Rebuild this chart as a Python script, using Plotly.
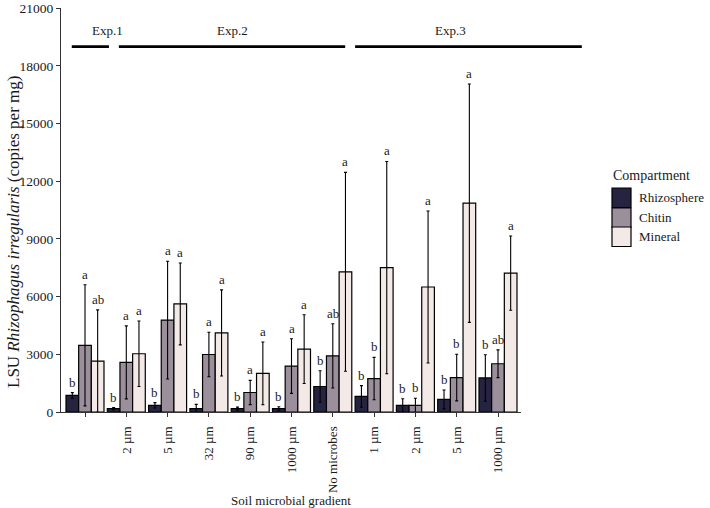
import plotly.graph_objects as go

# ---------------- data ----------------
tick_labels = ["", "2 µm", "5 µm", "32 µm", "90 µm", "1000 µm",
               "No microbes", "1 µm", "2 µm", "5 µm", "1000 µm"]
compartments = ["Rhizosphere", "Chitin", "Mineral"]

rhizo_mean = [860, 175, 345, 175, 175, 175, 1325, 810, 345, 655, 1770]
rhizo_sd   = [150, 50, 140, 220, 80, 100, 820, 560, 345, 490, 1210]
chitin_mean = [3470, 2580, 4780, 2990, 1015, 2390, 2920, 1740, 345, 1790, 2510]
chitin_sd   = [3150, 1900, 3060, 1160, 630, 1420, 1670, 1100, 370, 1210, 720]
mineral_mean = [2650, 3030, 5620, 4110, 2010, 3270, 7290, 7510, 6500, 10860, 7220]
mineral_sd   = [2660, 1700, 2130, 2240, 1630, 1790, 5170, 5520, 3950, 6200, 1930]

rhizo_letters = ["b", "b", "b", "b", "b", "b", "b", "b", "b", "b", "b"]
chitin_letters = ["a", "a", "a", "a", "a", "a", "ab", "b", "b", "b", "ab"]
mineral_letters = ["ab", "a", "a", "a", "a", "a", "a", "a", "a", "a", "a"]

y_ticks = [0, 3000, 6000, 9000, 12000, 15000, 18000, 21000]

exp_names = ["Exp.1", "Exp.2", "Exp.3"]
exp_start = [-0.32, 0.82, 6.54]   # in category units
exp_end = [0.58, 6.30, 12.03]
exp_level = 19000

colors = ["#25233f", "#9b8f9c", "#f3e9e6"]

# ---------------- layout constants ----------------
W, H = 710, 508
ML, MR, MT, MB = 61, 189, 8, 96
PW, PH = W - ML - MR, H - MT - MB
x_range = [-0.581, 10.557]
y_range = [0, 21010]
font_family = "Liberation Serif"
txt = "#1a1a1a"

xs = list(range(len(tick_labels)))
means = [rhizo_mean, chitin_mean, mineral_mean]
sds = [rhizo_sd, chitin_sd, mineral_sd]
letters = [rhizo_letters, chitin_letters, mineral_letters]

fig = go.Figure()
for name, m, s, c in zip(compartments, means, sds, colors):
    fig.add_trace(go.Bar(
        x=xs, y=m, name=name,
        marker=dict(color=c, line=dict(color="black", width=1.2)),
        error_y=dict(type="data", array=s, visible=True,
                     color="black", thickness=1.1, width=1.5),
        showlegend=False,
    ))

bargap = 0.08
bar_w = (1 - bargap) / 3
annotations = []
for k in range(3):
    off = (k - 1) * bar_w
    for i in xs:
        annotations.append(dict(
            x=i + off, y=means[k][i] + sds[k][i], xref="x", yref="y",
            text=letters[k][i], showarrow=False, yanchor="bottom", yshift=1,
            font=dict(family=font_family, size=13, color=txt),
        ))


def xpaper(u):
    return (u - x_range[0]) / (x_range[1] - x_range[0])


def px_to_py(py):
    return (MT + PH - py) / PH


ypaper_exp = (exp_level - y_range[0]) / (y_range[1] - y_range[0])
shapes = []
for nm, a, b in zip(exp_names, exp_start, exp_end):
    shapes.append(dict(type="line", xref="paper", yref="paper",
                       x0=xpaper(a), x1=xpaper(b), y0=ypaper_exp, y1=ypaper_exp,
                       line=dict(color="black", width=2.6)))
    annotations.append(dict(x=xpaper((a + b) / 2), y=ypaper_exp, xref="paper", yref="paper",
                            text=nm, showarrow=False, yanchor="bottom", yshift=7,
                            font=dict(family=font_family, size=13, color=txt)))

# y-axis title
annotations.append(dict(x=(13 - ML) / PW, y=px_to_py(232), xref="paper", yref="paper",
                        text="LSU <i>Rhizophagus irregularis</i> (copies per mg)",
                        textangle=-90, showarrow=False, xanchor="center", yanchor="middle",
                        font=dict(family=font_family, size=17, color=txt)))

# custom legend
leg_x0 = (612 - ML) / PW
leg_x1 = (631 - ML) / PW
key_tops = [188, 208, 227]
key_h = 19.5
annotations.append(dict(x=(611 - ML) / PW, y=px_to_py(175), xref="paper", yref="paper",
                        text="Compartment", showarrow=False, xanchor="left", yanchor="middle",
                        font=dict(family=font_family, size=14, color=txt)))
for name, c, top in zip(compartments, colors, key_tops):
    y1 = px_to_py(top)
    y0 = px_to_py(top + key_h)
    shapes.append(dict(type="rect", xref="paper", yref="paper",
                       x0=leg_x0, x1=leg_x1, y0=y0, y1=y1,
                       fillcolor=c, line=dict(color="black", width=1.2)))
    annotations.append(dict(x=(637 - ML) / PW, y=(y0 + y1) / 2, xref="paper", yref="paper",
                            text=name, showarrow=False, xanchor="left", yanchor="middle",
                            font=dict(family=font_family, size=13, color=txt)))

fig.update_layout(
    width=W, height=H,
    margin=dict(l=ML, r=MR, t=MT, b=MB, autoexpand=False),
    paper_bgcolor="white", plot_bgcolor="white",
    barmode="group", bargap=bargap, bargroupgap=0,
    font=dict(family=font_family, size=13, color=txt),
    shapes=shapes, annotations=annotations,
    xaxis=dict(
        range=x_range, tickmode="array", tickvals=xs, ticktext=tick_labels,
        tickangle=-90, showline=True, linecolor="#333", linewidth=1.2,
        ticks="outside", ticklen=4, tickcolor="#333", showgrid=False, zeroline=False,
        ticklabelstandoff=4, automargin=False,
        tickfont=dict(family=font_family, size=13, color=txt),
        title=dict(text="Soil microbial gradient", standoff=6,
                   font=dict(family=font_family, size=13, color=txt)),
    ),
    yaxis=dict(
        range=y_range, tickmode="array", tickvals=y_ticks,
        ticktext=[str(v) for v in y_ticks],
        showline=True, linecolor="#333", linewidth=1.2,
        ticks="outside", ticklen=4, tickcolor="#333", showgrid=False, zeroline=False,
        automargin=False, ticklabeloverflow="allow",
        tickfont=dict(family=font_family, size=13.5, color=txt),
    ),
)

fig.write_html("out.html")
